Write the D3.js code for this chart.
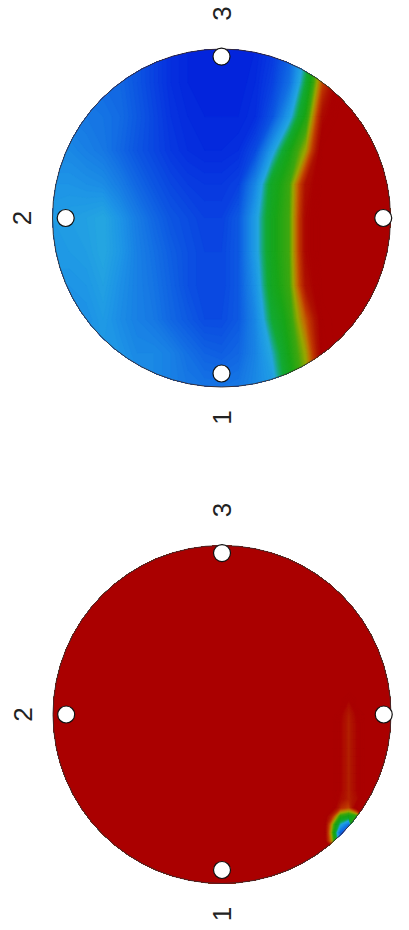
<!DOCTYPE html>
<html><head><meta charset="utf-8">
<script src="https://cdn.jsdelivr.net/npm/d3@7"></script>
<style>html,body{margin:0;padding:0;background:#fff;} svg{display:block}</style>
</head><body><svg id="chart" width="409" height="930"></svg>
<script>
// ---- DATA ----
// Top disk: field values on a 21 x 11 grid (u = -1..1 step 0.1, v = -1..1 step 0.2)
const topGridCols = 21;
const topGridRows = 11;
const topGrid = [
  [.25,.24,.23,.22,.20,.18,.14,.10,.08,.07,.07,.07,.08,.12,.20,.40,.70,.95,1,1,1],
  [.26,.25,.24,.23,.22,.18,.14,.10,.08,.07,.07,.07,.09,.14,.24,.48,.80,.98,1,1,1],
  [.28,.27,.26,.25,.23,.19,.15,.11,.09,.08,.08,.08,.10,.18,.36,.58,.92,1,1,1,1],
  [.30,.30,.28,.26,.22,.18,.15,.12,.10,.09,.09,.10,.16,.36,.55,.70,1,1,1,1,1],
  [.33,.33,.32,.31,.27,.22,.18,.15,.13,.12,.12,.14,.30,.52,.62,.90,1,1,1,1,1],
  [.35,.36,.37,.39,.33,.27,.22,.18,.16,.14,.14,.19,.36,.54,.63,.93,1,1,1,1,1],
  [.35,.35,.36,.39,.34,.28,.24,.20,.17,.15,.15,.19,.36,.54,.63,.93,1,1,1,1,1],
  [.33,.33,.34,.37,.32,.28,.25,.21,.17,.15,.15,.19,.33,.53,.62,.90,1,1,1,1,1],
  [.32,.32,.32,.35,.31,.28,.26,.22,.19,.16,.16,.19,.30,.48,.59,.78,.98,1,1,1,1],
  [.33,.33,.33,.34,.33,.30,.30,.28,.24,.21,.20,.22,.29,.40,.56,.70,.97,1,1,1,1],
  [.34,.34,.34,.34,.33,.32,.30,.28,.26,.25,.25,.26,.30,.35,.52,.66,.93,1,1,1,1]
];
// Bottom disk: 41 x 41 grid (step 0.05), uniform value except listed cells [col, row, value]
const bottomGridCols = 41;
const bottomGridRows = 41;
const bottomBaseValue = 1;
const bottomCells = [
  [35,18,.95],[35,19,.9],[35,20,.87],[35,21,.86],[35,22,.86],[35,23,.86],[35,24,.86],
  [35,25,.86],[35,26,.86],[35,27,.86],[35,28,.86],[35,29,.86],[35,30,.86],
  [34,20,.95],[34,21,.94],[34,22,.94],[34,23,.94],[34,24,.94],[34,25,.94],[34,26,.94],
  [34,27,.94],[34,28,.94],[34,29,.94],[34,30,.92],
  [36,20,.95],[36,21,.94],[36,22,.94],[36,23,.94],[36,24,.94],[36,25,.94],[36,26,.94],
  [36,27,.94],[36,28,.94],[36,29,.94],[36,30,.92],
  [34,31,.85],[35,31,.80],
  [33,32,.85],[34,32,.60],[35,32,.55],[36,32,.60],
  [33,33,.70],[34,33,.40],[35,33,.25],
  [33,34,.65],[34,34,.20],[35,34,.15],
  [33,35,.70],[34,35,.30]
];
// Colour map (value -> colour)
const colorStops = [0.07,0.12,0.18,0.25,0.33,0.39,0.44,0.48,0.56,0.63,0.69,0.75,0.81,0.88,0.95,1.0];
const colorValues = ["#0222dc","#0838e0","#0c55e2","#1574e4","#1d94e6","#25a6e0","#18aa70","#14aa34",
                     "#18a618","#40a810","#98a800","#c07400","#c03c00","#b01800","#aa0000","#aa0000"];
// Panels
const panelCenters = [{cx:221.5, cy:218}, {cx:222, cy:714.5}];
const panelRadius = 169;
// Electrode markers (unit-disk coords)
const markerU = [0, -0.922, 0, 0.957];
const markerV = [-0.955, 0, 0.92, 0];
// Labels
const labelText = ["3", "2", "1"];
const labelU = [0, -1.178, 0];
const labelV = [-1.21, 0, 1.18];

// ---- DRAW ----
const svg = d3.select("#chart");
const color = d3.scaleLinear().domain(colorStops).range(colorValues).interpolate(d3.interpolateRgb).clamp(true);
const thresholds = d3.range(0, 1, 0.01);

function buildBottom(){
  const arr = new Array(bottomGridCols*bottomGridRows).fill(bottomBaseValue);
  bottomCells.forEach(([i,j,v]) => { arr[j*bottomGridCols + i] = v; });
  return arr;
}
const grids = [
  {values: topGrid.flat(), cols: topGridCols, rows: topGridRows},
  {values: buildBottom(), cols: bottomGridCols, rows: bottomGridRows}
];

panelCenters.forEach((p, k) => {
  const g = grids[k];
  const R = panelRadius;
  const xs = d3.scaleLinear().domain([0.5, g.cols - 0.5]).range([p.cx - R, p.cx + R]);
  const ys = d3.scaleLinear().domain([0.5, g.rows - 0.5]).range([p.cy - R, p.cy + R]);
  const proj = d3.geoTransform({point(x, y){ this.stream.point(xs(x), ys(y)); }});
  const path = d3.geoPath(proj);
  const us = d3.scaleLinear().domain([-1, 1]).range([p.cx - R, p.cx + R]);
  const vs = d3.scaleLinear().domain([-1, 1]).range([p.cy - R, p.cy + R]);

  const clipId = "clip" + k;
  svg.append("clipPath").attr("id", clipId)
    .append("circle").attr("cx", p.cx).attr("cy", p.cy).attr("r", R);

  const contours = d3.contours().size([g.cols, g.rows]).smooth(true).thresholds(thresholds)(g.values);
  svg.append("g").attr("clip-path", `url(#${clipId})`)
    .selectAll("path").data(contours).join("path")
    .attr("d", path)
    .attr("fill", d => color(d.value + 0.005))
    .attr("stroke", d => color(d.value + 0.005))
    .attr("stroke-width", 0.3);

  svg.append("circle").attr("cx", p.cx).attr("cy", p.cy).attr("r", R)
    .attr("fill", "none").attr("stroke", "#3a2a2a").attr("stroke-width", 0.9);

  svg.append("g").selectAll("circle").data(markerU.map((u, i) => ({u, v: markerV[i]})))
    .join("circle")
    .attr("cx", d => us(d.u)).attr("cy", d => vs(d.v)).attr("r", 8.5)
    .attr("fill", "#fff").attr("stroke", "#111").attr("stroke-width", 1.2);

  svg.append("g").selectAll("text").data(labelText.map((t, i) => ({t, u: labelU[i], v: labelV[i]})))
    .join("text")
    .attr("transform", d => `translate(${us(d.u)},${vs(d.v)}) rotate(-90)`)
    .attr("text-anchor", "middle").attr("dominant-baseline", "central")
    .attr("font-family", "Liberation Sans, Arial, sans-serif")
    .attr("font-size", 26).attr("fill", "#222")
    .text(d => d.t);
});
</script></body></html>
